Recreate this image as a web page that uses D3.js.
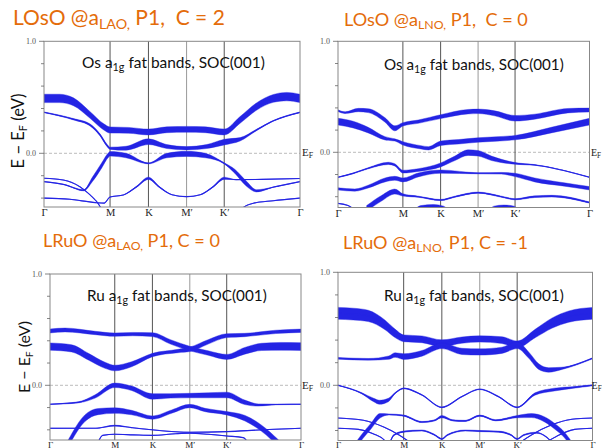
<!DOCTYPE html>
<html><head><meta charset="utf-8">
<script src="https://cdn.jsdelivr.net/npm/d3@7/dist/d3.min.js"></script>
<style>
html,body{margin:0;padding:0;background:#fff;}
svg{display:block;}
text{white-space:pre;}
</style></head><body>
<svg id="c" width="602" height="448" xml:space="preserve"></svg>
<script>
// ---------- data ----------
const kLabels = ["Γ","M","K","M′","K′","Γ"];
const kTicks  = [0, 0.258, 0.408, 0.557, 0.704, 1];
const eTicks  = [-0.4,-0.2,0,0.2,0.4,0.6,0.8,1.0];
const eTickLabels = [0, 1];

const titleMain = ["LOsO @a","LOsO @a","LRuO @a","LRuO @a"];
const titleSub  = ["LAO,","LNO,","LAO,","LNO,"];
const titleTail = [" P1,  C = 2"," P1,  C = 0"," P1, C = 0"," P1, C = -1"];
const innerHead = ["Os a","Os a","Ru a","Ru a"];
const innerSub  = "1g";
const innerTail = " fat bands, SOC(001)";

// bands: [k, E (eV), fat weight (eV)]
const bandsP1 = [
 [[0,.49,.075],[.06,.49,.075],[.115,.46,.07],[.18,.342,.06],[.232,.238,.055],[.258,.208,.055],[.33,.205,.052],[.408,.19,.052],[.48,.21,.052],[.557,.214,.052],[.63,.21,.052],[.704,.19,.052],[.766,.298,.06],[.83,.417,.065],[.896,.49,.07],[.948,.506,.075],[1,.49,.075]],
 [[0,.366,.006],[.115,.304,.012],[.18,.253,.018],[.219,.164,.018],[.245,.074,.02],[.258,.045,.02],[.32,.045,.035],[.408,.104,.05],[.48,.06,.035],[.557,.045,.03],[.635,.06,.035],[.704,.1,.05],[.766,.125,.03],[.83,.208,.012],[.896,.29,.006],[1,.366,.006]],
 [[0,-.253,0],[.08,-.28,0],[.155,-.33,.01],[.19,-.23,.04],[.225,-.11,.045],[.252,-.015,.04],[.258,-.005,.04],[.32,-.02,.04],[.408,-.09,.008],[.48,-.02,.04],[.557,-.005,.045],[.63,-.02,.04],[.704,-.09,.01],[.745,-.16,.035],[.79,-.27,.045],[.83,-.335,.02],[.9,-.3,0],[1,-.253,0]],
 [[0,-.223,0],[.075,-.238,0],[.14,-.298,0],[.18,-.372,0],[.219,-.476,0],[.23,-.53,0]],
 [[0,-.40,0],[.1,-.41,0],[.2,-.44,0],[.235,-.445,0],[.258,-.39,0],[.31,-.372,0],[.362,-.298,.01],[.408,-.223,.02],[.45,-.3,.01],[.5,-.37,0],[.557,-.387,0],[.61,-.37,0],[.66,-.3,.01],[.704,-.223,.02],[.75,-.235,0],[.85,-.233,0],[1,-.225,0]],
 [[.766,-.53,0],[.775,-.49,0],[.818,-.446,0],[.896,-.423,0],[1,-.40,0]]
];
const bandsP2 = [
 [[0,.375,.015],[.028,.357,.015],[.081,.381,.03],[.12,.375,.035],[.187,.291,.04],[.226,.216,.045],[.258,.252,.03],[.319,.276,.03],[.408,.321,.035],[.517,.366,.04],[.557,.369,.04],[.623,.351,.045],[.704,.306,.05],[.782,.321,.045],[.914,.375,.04],[1,.381,.035]],
 [[0,.276,.06],[.06,.25,.06],[.12,.2,.05],[.187,.126,.03],[.226,.111,.02],[.258,.081,.03],[.33,.045,.03],[.36,.036,.03],[.408,.081,.04],[.48,.095,.04],[.557,.111,.04],[.63,.12,.04],[.704,.132,.04],[.848,.2,.05],[1,.276,.06]],
 [[0,-.225,.004],[.06,-.19,.006],[.12,-.144,.01],[.2,-.1,.02],[.226,-.114,.02],[.258,-.174,.025],[.319,-.16,.025],[.408,-.114,.035],[.465,-.054,.04],[.517,-.003,.05],[.557,-.009,.05],[.61,-.054,.04],[.704,-.1,.015],[.782,-.114,.006],[1,-.225,.004]],
 [[0,-.33,.02],[.067,-.34,.02],[.12,-.309,.025],[.187,-.249,.035],[.226,-.234,.035],[.258,-.249,.035],[.319,-.204,.035],[.408,-.174,.03],[.557,-.189,.01],[.65,-.189,.015],[.704,-.204,.03],[.782,-.249,.035],[.9,-.29,.03],[1,-.324,.03]],
 [[.114,-.505,.05],[.173,-.414,.05],[.226,-.354,.045],[.258,-.384,.02],[.319,-.40,.01],[.408,-.43,.01],[.465,-.40,.01],[.557,-.363,.01],[.65,-.40,.01],[.704,-.423,.01],[.782,-.40,.015],[.85,-.395,.015],[1,-.453,.01]],
 [[0,-.46,0],[.04,-.48,0],[.075,-.53,0]],
 [[.3,-.54,.03],[.33,-.495,.03],[.38,-.485,.03],[.42,-.5,.03],[.44,-.54,.03]],
 [[.6,-.54,.03],[.62,-.5,.03],[.66,-.49,.03],[.7,-.5,.03],[.72,-.54,.03]]
];
const bandsP3 = [
 [[0,.488,.035],[.06,.497,.035],[.18,.47,.03],[.258,.455,.03],[.33,.46,.03],[.408,.455,.035],[.48,.39,.04],[.557,.33,.04],[.63,.29,.04],[.704,.255,.045],[.776,.31,.06],[.843,.345,.065],[.92,.35,.07],[1,.348,.07]],
 [[0,.348,.065],[.086,.332,.065],[.153,.257,.06],[.219,.18,.055],[.258,.155,.05],[.325,.189,.045],[.408,.272,.03],[.51,.308,.03],[.557,.323,.04],[.63,.39,.04],[.704,.446,.035],[.776,.452,.03],[.9,.48,.03],[1,.49,.03]],
 [[0,-.17,.004],[.113,-.153,.01],[.18,-.10,.03],[.258,.0,.04],[.325,-.027,.04],[.408,-.1,.05],[.48,-.095,.04],[.557,-.092,.04],[.63,-.09,.045],[.704,-.087,.05],[.776,-.153,.04],[.83,-.177,.02],[.9,-.172,.006],[1,-.17,.004]],
 [[.073,-.52,.06],[.139,-.296,.06],[.193,-.236,.055],[.258,-.227,.05],[.325,-.245,.04],[.408,-.29,.03],[.485,-.236,.03],[.557,-.186,.03],[.618,-.222,.03],[.704,-.251,.03],[.777,-.296,.05],[.843,-.386,.055],[.91,-.52,.06]],
 [[0,-.386,.004],[.18,-.386,0],[.258,-.362,.008],[.325,-.38,0],[.408,-.40,0],[.557,-.422,0],[.704,-.416,0],[.843,-.40,0],[1,-.386,0]],
 [[.19,-.52,0],[.21,-.45,0],[.258,-.44,0],[.33,-.445,0],[.408,-.45,0],[.5,-.435,0],[.557,-.43,0],[.63,-.44,0],[.704,-.455,0],[.77,-.47,0],[.79,-.52,0]]
];
const bandsP4 = [
 [[0,.637,.105],[.06,.63,.105],[.119,.614,.1],[.185,.534,.085],[.224,.46,.075],[.258,.416,.06],[.33,.407,.06],[.408,.372,.06],[.487,.40,.055],[.557,.41,.055],[.644,.40,.06],[.704,.362,.06],[.776,.46,.075],[.84,.549,.09],[.907,.608,.1],[1,.637,.105]],
 [[0,.239,.015],[.119,.23,.015],[.2,.245,.03],[.224,.268,.04],[.258,.254,.05],[.33,.283,.05],[.408,.35,.05],[.487,.30,.055],[.557,.295,.055],[.644,.31,.055],[.704,.355,.06],[.749,.268,.055],[.789,.165,.05],[.828,.136,.04],[.88,.15,.02],[1,.239,.01]],
 [[0,0,.006],[.093,-.07,.01],[.14,-.13,.03],[.163,-.15,.035],[.198,-.13,.03],[.224,-.07,.01],[.258,-.027,.006],[.33,-.086,.006],[.408,-.195,.006],[.487,-.1,.006],[.557,-.035,.006],[.63,-.1,.006],[.704,-.195,.006],[.774,-.077,.02],[.85,-.038,.025],[.92,-.02,.015],[1,0,.01]],
 [[.07,-.53,.05],[.1,-.44,.05],[.13,-.36,.05],[.165,-.27,.04],[.2,-.258,.01],[.258,-.268,.01],[.33,-.325,.01],[.38,-.31,.01],[.408,-.277,.02],[.45,-.31,.01],[.5,-.315,.01],[.557,-.268,.01],[.62,-.31,.01],[.704,-.277,.02],[.76,-.268,.035],[.81,-.3,.045],[.85,-.36,.05],[.89,-.44,.05],[.92,-.53,.05]],
 [[0,-.29,0],[.1,-.31,0],[.18,-.37,0],[.24,-.44,0],[.28,-.5,0],[.3,-.53,0]],
 [[0,-.38,0],[.08,-.39,0],[.14,-.43,0],[.18,-.48,0],[.2,-.53,0]],
 [[.2,-.53,0],[.22,-.44,.01],[.258,-.41,.01],[.33,-.40,.01],[.38,-.44,.01],[.408,-.475,.01],[.43,-.44,.01],[.5,-.40,.01],[.557,-.405,.01],[.63,-.41,.01],[.68,-.44,.01],[.704,-.475,.01],[.73,-.44,.01],[.78,-.42,.01],[.82,-.46,0],[.85,-.53,0]],
 [[.7,-.53,0],[.76,-.44,0],[.84,-.35,0],[.92,-.30,0],[1,-.29,0]],
 [[.8,-.53,0],[.86,-.45,0],[.93,-.39,0],[1,-.38,0]]
];
const allBands = [bandsP1, bandsP2, bandsP3, bandsP4];

// ---------- layout ----------
const boxes = [
 {l:44,  r:300,   t:41.3,  z:153.3, b:207,   kl:{y:9,   fs:10.5}},
 {l:338, r:589.5, t:41.3,  z:152.3, b:207.5, kl:{y:9,   fs:10.5}},
 {l:50,  r:301,   t:274,   z:385.3, b:440,   kl:{y:7.5, fs:9}},
 {l:338, r:592.5, t:272.3, z:385.3, b:440.5, kl:{y:7,   fs:9}}
];
const titlePos = [{x:13,y:25,w:212},{x:344,y:26,w:184},{x:43,y:247,w:177},{x:343,y:249,w:185}];
const innerPos = [{x:82,y:68,w:183},{x:384,y:69.5,w:180},{x:87,y:300.5,w:180},{x:384,y:300.5,w:180}];
const ylabPos  = [{x:24,y:131,w:75},null,{x:30,y:357,w:72},null];
const efLeft   = [false,true,false,true];

const BLUE = "#2424e4";
const SANS = "Lato, 'Open Sans', sans-serif";
const SERIF = "'Liberation Serif', 'DejaVu Serif', serif";
const svg = d3.select("#c");
const defs = svg.append("defs");

function fit(sel, target){
  const w = sel.node().getBBox().width;
  const fs = parseFloat(sel.attr("font-size"));
  sel.attr("font-size", fs*target/w);
}

function efLabel(g, x, y, fs){
  const t = g.append("text").attr("x",x).attr("y",y).attr("font-family",SERIF).attr("font-size",fs).attr("fill","#222");
  t.append("tspan").text("E");
  t.append("tspan").attr("font-size",fs*0.72).attr("dy",2.5).text("F");
}

boxes.forEach((bx,i)=>{
  const {l,r,t,z,b} = bx;
  const x = d3.scaleLinear().domain([0,1]).range([l,r]);
  const y = d3.scaleLinear().domain([0,1]).range([z,t]);
  const g = svg.append("g");
  const cid = "clip"+i;
  defs.append("clipPath").attr("id",cid).append("rect").attr("x",l).attr("y",t).attr("width",r-l).attr("height",b-t);

  // Fermi level
  g.append("line").attr("x1",l).attr("x2",r).attr("y1",y(0)).attr("y2",y(0))
    .attr("stroke","#aaa").attr("stroke-width",0.8).attr("stroke-dasharray","3,2");
  // high symmetry lines
  g.selectAll("line.hs").data(kTicks.slice(1,-1)).join("line").attr("class","hs")
    .attr("x1",d=>x(d)).attr("x2",d=>x(d)).attr("y1",t).attr("y2",b)
    .attr("stroke",(d,j)=> j===2 ? "#999" : "#555").attr("stroke-width",1);

  // bands
  const bg = g.append("g").attr("clip-path",`url(#${cid})`);
  const area = d3.area().x(d=>x(d[0])).y0(d=>y(d[1]-d[2]/2)).y1(d=>y(d[1]+d[2]/2)).curve(d3.curveMonotoneX);
  const line = d3.line().x(d=>x(d[0])).y(d=>y(d[1])).curve(d3.curveMonotoneX);
  allBands[i].forEach(bd=>{
    bg.append("path").attr("d",area(bd)).attr("fill",BLUE).attr("stroke",BLUE).attr("stroke-width",0.4);
    bg.append("path").attr("d",line(bd)).attr("fill","none").attr("stroke",BLUE).attr("stroke-width",1.1);
  });

  // frame
  g.append("rect").attr("x",l).attr("y",t).attr("width",r-l).attr("height",b-t)
    .attr("fill","none").attr("stroke","#888").attr("stroke-width",1);

  // energy ticks
  const et = eTicks.filter(e=>y(e)<=b+0.5);
  g.selectAll("line.et").data(et).join("line").attr("class","et")
    .attr("x1",d=> l - (eTickLabels.includes(d)?5:3)).attr("x2",l)
    .attr("y1",d=>y(d)).attr("y2",d=>y(d)).attr("stroke","#666").attr("stroke-width",0.8);
  g.selectAll("text.etl").data(eTickLabels).join("text").attr("class","etl")
    .attr("x",l-8).attr("y",d=>y(d)+3).attr("text-anchor","end")
    .attr("font-family",SERIF).attr("font-size",8).attr("fill","#555")
    .text(d=>d3.format(".1f")(d));

  // k labels
  const ax = d3.axisBottom(x).tickValues(kTicks).tickFormat((d,j)=>kLabels[j]).tickSize(0).tickPadding(0);
  const axg = g.append("g").attr("transform",`translate(0,${b})`).call(ax);
  axg.select(".domain").remove();
  axg.selectAll("text").attr("font-family",SERIF).attr("font-size",bx.kl.fs).attr("fill","#222").attr("dy",0).attr("y",bx.kl.y);

  // E_F labels
  if(efLeft[i]){
    efLabel(g, 302, y(0)+3.5, 11);
    efLabel(g, Math.min(r+1.5, 591.6), y(0)+3.5, 10);
  }

  // title
  const tp = titlePos[i];
  const tt = svg.append("text").attr("x",tp.x).attr("y",tp.y).attr("font-family",SANS).attr("font-size",19).attr("fill","#E46C0A");
  tt.append("tspan").text(titleMain[i]);
  tt.append("tspan").attr("font-size","0.68em").attr("dy","0.25em").text(titleSub[i]);
  tt.append("tspan").attr("dy","-0.17em").text(titleTail[i]);
  fit(tt, tp.w);

  // inner label
  const ip = innerPos[i];
  const it = svg.append("text").attr("x",ip.x).attr("y",ip.y).attr("font-family",SANS).attr("font-size",15).attr("fill","#111");
  it.append("tspan").text(innerHead[i]);
  it.append("tspan").attr("font-size","0.7em").attr("dy","0.3em").text(innerSub);
  it.append("tspan").attr("dy","-0.21em").text(innerTail);
  fit(it, ip.w);

  // y label
  const yp = ylabPos[i];
  if(yp){
    const yl = svg.append("text").attr("transform",`translate(${yp.x},${yp.y}) rotate(-90)`)
      .attr("text-anchor","middle").attr("font-family",SANS).attr("font-size",16).attr("fill","#111");
    yl.append("tspan").text("E − E");
    yl.append("tspan").attr("font-size","0.65em").attr("dy","0.3em").text("F");
    yl.append("tspan").attr("dy","-0.195em").text(" (eV)");
    fit(yl, yp.w);
  }
});
</script>
</body></html>
